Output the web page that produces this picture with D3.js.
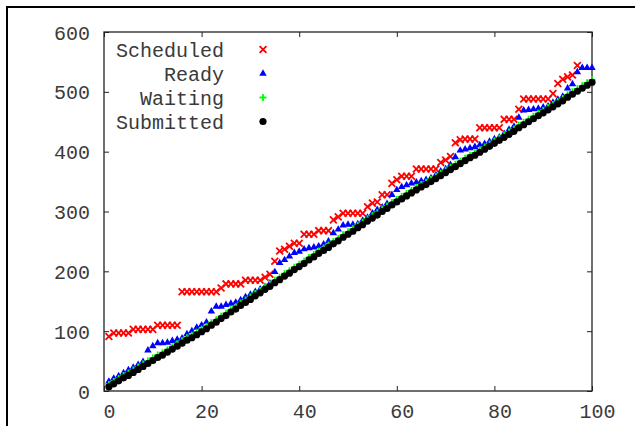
<!DOCTYPE html>
<html>
<head>
<meta charset="utf-8">
<script src="https://cdn.jsdelivr.net/npm/d3@7"></script>
<style>
  html, body { margin: 0; padding: 0; background: #fff; }
  svg { display: block; }
  text { font-family: "Liberation Mono", "DejaVu Sans Mono", monospace; fill: #3a3a3a; }
</style>
</head>
<body>
<svg id="chart" width="635" height="426"></svg>
<script>
// Per-job timing counts, job index 1..100
const scheduled = [
  91, 97, 97, 97, 97, 103, 103, 103, 103, 103,
  110, 110, 110, 110, 110, 166, 166, 166, 166, 166,
  166, 166, 166, 172, 179, 179, 179, 179, 185, 185,
  185, 185, 190, 195, 217, 234, 237, 242, 247, 247,
  262, 262, 262, 268, 268, 268, 286, 291, 297, 297,
  297, 297, 297, 308, 314, 316, 328, 328, 347, 353,
  359, 359, 359, 371, 371, 371, 371, 371, 382, 386,
  392, 415, 420, 421, 421, 421, 440, 440, 440, 440,
  440, 454, 454, 454, 471, 488, 488, 488, 488, 488,
  488, 497, 514, 521, 525, 528, 544
];
const ready = [
  16, 21, 25, 30, 35, 39, 44, 49, 68, 75,
  80, 80, 81, 84, 86, 88, 95, 100, 106, 110,
  115, 133, 141, 141, 144, 146, 148, 152, 157, 161,
  166, 170, 174, 180, 199, 214, 219, 225, 231, 233,
  237, 239, 240, 242, 245, 250, 264, 270, 277, 278,
  278, 279, 285, 290, 297, 303, 307, 313, 328, 336,
  341, 344, 347, 349, 351, 353, 356, 361, 367, 371,
  378, 391, 402, 404, 406, 408, 411, 413, 417, 421,
  424, 430, 437, 442, 457, 469, 470, 471, 472, 474,
  476, 482, 487, 492, 506, 513, 533, 540, 540, 540
];
const waiting = [
  11, 16, 21, 26, 30, 35, 40, 45, 50, 55,
  60, 64, 69, 74, 79, 84, 89, 93, 98, 103,
  108, 114, 119, 125, 130, 136, 141, 147, 152, 157,
  163, 168, 174, 179, 185, 190, 196, 201, 207, 212,
  217, 223, 228, 234, 239, 244, 250, 255, 261, 266,
  271, 277, 282, 288, 293, 298, 304, 309, 315, 320,
  325, 330, 335, 340, 345, 349, 354, 359, 364, 369,
  374, 379, 384, 389, 394, 398, 403, 408, 413, 418,
  423, 428, 433, 438, 444, 449, 454, 459, 464, 469,
  474, 479, 484, 489, 495, 500, 505, 510, 515, 520
];
const submitted = [
  7, 12, 17, 22, 26, 31, 36, 41, 46, 51,
  56, 60, 65, 70, 75, 80, 85, 89, 94, 99,
  104, 110, 115, 121, 126, 132, 137, 143, 148, 153,
  159, 164, 170, 175, 181, 186, 192, 197, 203, 208,
  213, 219, 224, 230, 235, 240, 246, 251, 257, 262,
  267, 273, 278, 284, 289, 294, 300, 305, 311, 316,
  321, 326, 331, 336, 341, 345, 350, 355, 360, 365,
  370, 375, 380, 385, 390, 394, 399, 404, 409, 414,
  419, 424, 429, 434, 440, 445, 450, 455, 460, 465,
  470, 475, 480, 485, 491, 496, 501, 506, 511, 516
];
const seriesNames = ["Scheduled", "Ready", "Waiting", "Submitted"];
const xTicks = [0, 20, 40, 60, 80, 100];
const yTicks = [0, 100, 200, 300, 400, 500, 600];

const svg = d3.select("#chart");
const W = 635, H = 426;

// page frame lines (top and left)
svg.append("line").attr("x1", 6).attr("x2", W).attr("y1", 7).attr("y2", 7)
  .attr("stroke", "#000").attr("stroke-width", 2);
svg.append("line").attr("x1", 7).attr("x2", 7).attr("y1", 6).attr("y2", H)
  .attr("stroke", "#000").attr("stroke-width", 2);

const plot = { left: 104, right: 592, top: 32, bottom: 391 };
const x = d3.scaleLinear().domain([0, 100]).range([plot.left, plot.right]);
const y = d3.scaleLinear().domain([0, 600]).range([plot.bottom, plot.top]);

const fontSize = 20;

// axes with inward ticks, mirrored on top and right
const axL = svg.append("g").attr("transform", `translate(${plot.left},0)`)
  .call(d3.axisLeft(y).tickValues(yTicks).tickSizeInner(-5).tickSizeOuter(0).tickPadding(14));
const axB = svg.append("g").attr("transform", `translate(0,${plot.bottom})`)
  .call(d3.axisBottom(x).tickValues(xTicks).tickSizeInner(-5).tickSizeOuter(0));
const axR = svg.append("g").attr("transform", `translate(${plot.right},0)`)
  .call(d3.axisRight(y).tickValues(yTicks).tickSizeInner(-5).tickSizeOuter(0).tickFormat(""));
const axT = svg.append("g").attr("transform", `translate(0,${plot.top})`)
  .call(d3.axisTop(x).tickValues(xTicks).tickSizeInner(-5).tickSizeOuter(0).tickFormat(""));

[axL, axB, axR, axT].forEach(g => {
  g.select(".domain").remove();
  g.selectAll(".tick line").attr("stroke", "#222").attr("stroke-width", 1);
  g.selectAll("text").attr("font-size", fontSize)
    .attr("font-family", "Liberation Mono, DejaVu Sans Mono, monospace").attr("fill", "#3a3a3a");
});
axB.selectAll("text").attr("y", 20).attr("dy", "0.35em").attr("dx", 5);
axL.selectAll("text").attr("dy", "0.35em");

// plot border
svg.append("rect")
  .attr("x", plot.left).attr("y", plot.top)
  .attr("width", plot.right - plot.left).attr("height", plot.bottom - plot.top)
  .attr("fill", "none").attr("stroke", "#222").attr("stroke-width", 1.3);

// marker drawers
const crossPath = s => `M${-s},${-s}L${s},${s}M${-s},${s}L${s},${-s}`;
const plusPath = s => `M${-s},0L${s},0M0,${-s}L0,${s}`;
const triPath = d3.symbol(d3.symbolTriangle, 24)();

function drawMarker(g, kind) {
  if (kind === "Scheduled") {
    g.append("path").attr("d", crossPath(3.4)).attr("stroke", "#ff0000").attr("stroke-width", 1.8).attr("fill", "none");
  } else if (kind === "Ready") {
    g.append("path").attr("d", triPath).attr("fill", "#0000ff");
  } else if (kind === "Waiting") {
    g.append("path").attr("d", plusPath(3.5)).attr("stroke", "#00ff00").attr("stroke-width", 1.8).attr("fill", "none");
  } else {
    g.append("circle").attr("r", 3.6).attr("fill", "#000");
  }
}

const seriesData = {
  Scheduled: scheduled,
  Ready: ready,
  Waiting: waiting,
  Submitted: submitted
};

seriesNames.forEach(name => {
  const vals = seriesData[name];
  const g = svg.append("g").attr("class", "series");
  vals.forEach((v, i) => {
    const m = g.append("g").attr("transform", `translate(${x(i + 1)},${y(v)})`);
    drawMarker(m, name);
  });
});

// legend
const legendY = [49.5, 73.5, 97.5, 121.5];
seriesNames.forEach((name, k) => {
  svg.append("text")
    .attr("x", 224).attr("y", legendY[k]).attr("dy", "0.35em")
    .attr("text-anchor", "end").attr("font-size", fontSize)
    .text(name);
  const m = svg.append("g").attr("transform", `translate(263,${legendY[k]})`);
  drawMarker(m, name);
});
</script>
</body>
</html>
